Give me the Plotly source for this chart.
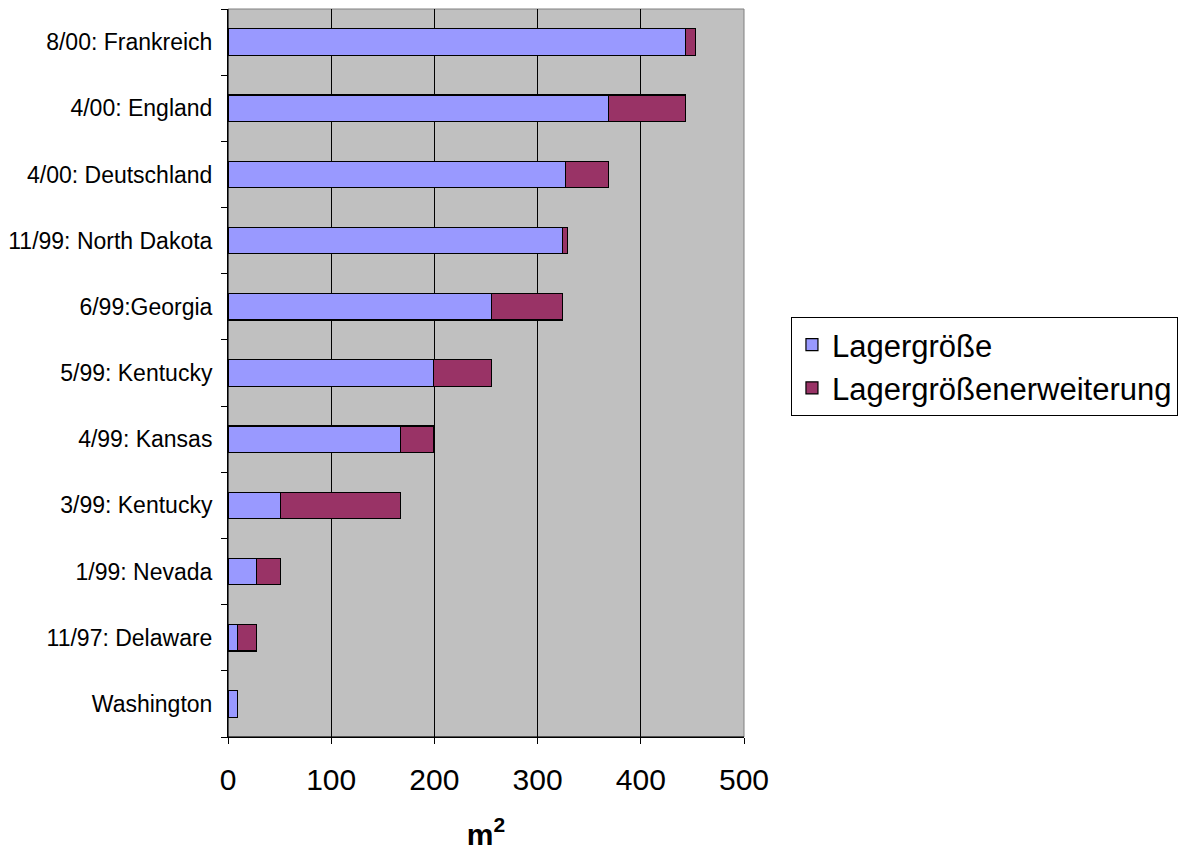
import plotly.graph_objects as go

categories = ["Washington", "11/97: Delaware", "1/99: Nevada", "3/99: Kentucky",
              "4/99: Kansas", "5/99: Kentucky", "6/99:Georgia", "11/99: North Dakota",
              "4/00: Deutschland", "4/00: England", "8/00: Frankreich"]
lager = [9.3, 9.3, 27.3, 51, 167, 199, 255.5, 324.5, 327, 368.5, 443.5]
erweiterung = [0, 18, 23.6, 116, 32, 56.5, 69, 4.5, 41.5, 75, 9.5]
x_ticks = [0, 100, 200, 300, 400, 500]

fig = go.Figure()
fig.add_trace(go.Bar(y=categories, x=lager, orientation="h", name="Lagergröße",
                     marker=dict(color="#9999FF", line=dict(color="#000000", width=1.2))))
fig.add_trace(go.Bar(y=categories, x=erweiterung, orientation="h", name="Lagergrößenerweiterung",
                     marker=dict(color="#993366", line=dict(color="#000000", width=1.2))))

fig.update_layout(
    barmode="stack",
    bargap=0.6,
    width=1192, height=859,
    margin=dict(l=220, r=456, t=1, b=130),
    plot_bgcolor="#C0C0C0",
    paper_bgcolor="#FFFFFF",
    font=dict(family="Liberation Sans, Arial, sans-serif", color="#000000"),
    showlegend=True,
    legend=dict(x=1.091, y=0.509, xanchor="left", yanchor="middle",
                font=dict(size=31), bordercolor="#000000", borderwidth=1,
                bgcolor="#FFFFFF", traceorder="normal", itemwidth=30),
)
fig.update_xaxes(range=[0, 500], tickvals=x_ticks, ticktext=[str(v) for v in x_ticks],
                 showgrid=True, gridcolor="#000000", gridwidth=1,
                 showline=True, linecolor="#000000", linewidth=1, mirror=False,
                 ticks="outside", ticklen=6, tickcolor="#000000",
                 tickfont=dict(size=30), ticklabelstandoff=10,
                 title=dict(text="<b>m<sup>2</sup></b>", font=dict(size=30), standoff=28),
                 zeroline=False, automargin=False)
fig.update_yaxes(type="category", categoryorder="array", categoryarray=categories,
                 showline=True, linecolor="#000000", linewidth=1,
                 ticks="outside", ticklen=6, tickcolor="#000000", tickson="boundaries",
                 tickfont=dict(size=23), showgrid=False, ticklabelstandoff=10,
                 automargin=False)
# gray border on top and right of plot area
fig.add_shape(type="rect", xref="paper", yref="paper", x0=0, y0=0, x1=1, y1=1,
              line=dict(color="#808080", width=1), layer="below")
fig.add_shape(type="line", xref="paper", yref="paper", x0=0, y0=0, x1=0, y1=1,
              line=dict(color="#000000", width=1))
fig.add_shape(type="line", xref="paper", yref="paper", x0=0, y0=0, x1=1, y1=0,
              line=dict(color="#000000", width=1))

fig.write_html("out.html")
